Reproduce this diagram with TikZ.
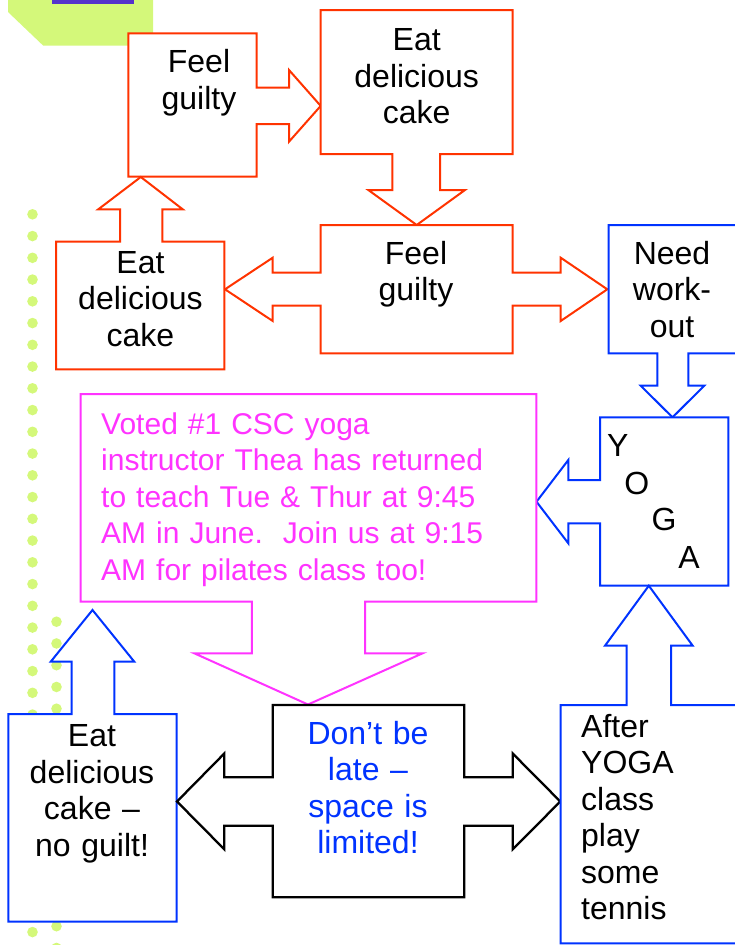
\documentclass[tikz,border=0pt]{standalone}
\usepackage{fontspec}
\setmainfont{Liberation Sans}
\usepackage{xcolor}
\usepackage{tikz}
\usetikzlibrary{positioning}
\definecolor{cakered}  {RGB}{255,51,0}
\definecolor{yogablue} {RGB}{0,51,255}
\definecolor{promopink}{RGB}{255,51,255}
\definecolor{dotlime}  {RGB}{212,248,122}
\definecolor{slidepurp}{RGB}{85,51,204}
\tikzset{
  % Callout outlines
  callout/.style={draw=#1, line width=2pt, fill=white, line join=miter},
  callout/.default=black,
  redcall/.style ={callout=cakered},
  bluecall/.style={callout=yogablue},
  pinkcall/.style={callout=promopink},
  % Texts
  btxt/.style={font=\fontsize{32}{36.5}\selectfont, inner sep=0pt,
               align=center, anchor=base},
  ltxt/.style={btxt, align=left, anchor=base west},
  ptxt/.style={font=\fontsize{30}{36.5}\selectfont, inner sep=0pt,
               align=left, anchor=base west, text=promopink},
}

\begin{document}
\begin{tikzpicture}[x=1pt,y=-1pt]
    \useasboundingbox (0,0) rectangle (735,945);

    %% ── Slide decoration ───────────────────────────────────
    \fill[dotlime] (8,-1) -- (153,-1) -- (153,45.7) -- (43.3,45.7) -- (8,12) -- cycle;
    \fill[slidepurp] (51.7,-1) rectangle (134,4);
    \foreach \k in {0,...,33}
      \fill[dotlime] (32.5,214.3+\k*21.75) circle (5.3);
    \foreach \k in {0,...,15}
      \fill[dotlime] (56.5,621.7+\k*21.75) circle (5.3);

    %% ── Red loop ───────────────────────────────────────────
    % Feel guilty (top)
    \draw[redcall] (128.3,33.3) -- (256.7,33.3) -- (256.7,87.7) -- (289,87.7)
         -- (289,70) -- (320.7,105.9) -- (289,141.7) -- (289,124) -- (256.7,124)
         -- (256.7,176.7) -- (128.3,176.7) -- cycle;
    \node[btxt, text width=128] (fgTop) at (199,72.7) {Feel\\guilty};

    % Eat delicious cake (top)
    \draw[redcall] (320.7,10) -- (512.7,10) -- (512.7,154) -- (440,154)
         -- (440,190) -- (465,190) -- (416.7,225) -- (368.3,190) -- (392.3,190)
         -- (392.3,154) -- (320.7,154) -- cycle;
    \node[btxt, text width=190] (cakeTop) at (416.7,50.7) {Eat\\delicious\\cake};

    % Feel guilty (middle)
    \draw[redcall] (320.7,225) -- (512.7,225) -- (512.7,272.7) -- (560.7,272.7)
         -- (560.7,257.7) -- (607.3,289.3) -- (560.7,321) -- (560.7,305.7)
         -- (512.7,305.7) -- (512.7,353.3) -- (320.7,353.3) -- (320.7,305.7)
         -- (272.7,305.7) -- (272.7,321) -- (225,289.3) -- (272.7,257.7)
         -- (272.7,272.7) -- (320.7,272.7) -- cycle;
    \node[btxt, text width=190] (fgMid) at (416,264) {Feel\\guilty};

    % Eat delicious cake (left)
    \draw[redcall] (56,241.7) -- (120,241.7) -- (120,209.3) -- (98.3,209.3)
         -- (140.8,177) -- (182.7,209.3) -- (162.3,209.3) -- (162.3,241.7)
         -- (224.3,241.7) -- (224.3,369.3) -- (56,369.3) -- cycle;
    \node[btxt, text width=166] (cakeLeft) at (140.5,273.3) {Eat\\delicious\\cake};

    %% ── Blue way out ───────────────────────────────────────
    % Need work-out
    \draw[bluecall] (608.7,225) -- (737,225) -- (737,353.3) -- (688.3,353.3)
         -- (688.3,385.7) -- (704.3,385.7) -- (672.5,417.3) -- (640.7,385.7)
         -- (657.3,385.7) -- (657.3,353.3) -- (608.7,353.3) -- cycle;
    \node[btxt, text width=126] (workout) at (672,264) {Need\\work-\\out};

    % YOGA
    \draw[bluecall] (600,417.3) -- (728.3,417.3) -- (728.3,585.7) -- (600,585.7)
         -- (600,523.3) -- (568.3,523.3) -- (568.3,543.3) -- (536.5,501.7)
         -- (568.3,460) -- (568.3,480) -- (600,480) -- cycle;
    \node[btxt] (yogaY) at (617.7,456.7) {Y};
    \node[btxt] (yogaO) at (636.7,494)   {O};
    \node[btxt] (yogaG) at (664,530.7)   {G};
    \node[btxt] (yogaA) at (689,568.3)   {A};

    %% ── Pink notice ────────────────────────────────────────
    \draw[pinkcall] (80.7,394) -- (536.4,394) -- (536.4,601.5) -- (365.2,601.5)
         -- (365.2,653.3) -- (422.6,653.3) -- (308,704.5) -- (194.3,653.3)
         -- (251.8,653.3) -- (251.8,601.5) -- (80.7,601.5) -- cycle;
    \node[ptxt, text width=430] (promo) at (101,434)
         {Voted \#1 CSC yoga\\instructor Thea has returned\\to teach Tue \& Thur at 9:45\\AM in June.\ \ Join us at 9:15\\AM for pilates class too!};

    %% ── Bottom row ─────────────────────────────────────────
    % Eat delicious cake -- no guilt
    \draw[bluecall] (8.3,714) -- (71.7,714) -- (71.7,661.7) -- (50.7,661.7)
         -- (92.5,610) -- (134.3,661.7) -- (114.3,661.7) -- (114.3,714)
         -- (176.7,714) -- (176.7,921.7) -- (8.3,921.7) -- cycle;
    \node[btxt, text width=166] (guiltfree) at (92,746.7)
         {Eat\\delicious\\cake –\\no guilt!};

    % Don't be late
    \draw[callout, line width=2.3pt] (272.7,705) -- (464.3,705) -- (464.3,777.3)
         -- (512.7,777.3) -- (512.7,753.5) -- (560.3,801.5) -- (512.7,849.3)
         -- (512.7,825.7) -- (464.3,825.7) -- (464.3,897.3) -- (272.7,897.3)
         -- (272.7,825.7) -- (224.3,825.7) -- (224.3,849.3) -- (177,801.5)
         -- (224.3,753.5) -- (224.3,777.3) -- (272.7,777.3) -- cycle;
    \node[btxt, text width=190, text=yogablue] (dontlate) at (368,744)
         {Don’t be\\late –\\space is\\limited!};

    % After YOGA
    \draw[bluecall] (560.7,705) -- (626.7,705) -- (626.7,645.7) -- (605,645.7)
         -- (648.8,585.7) -- (692.7,645.7) -- (671,645.7) -- (671,705)
         -- (737,705) -- (737,943.3) -- (560.7,943.3) -- cycle;
    \node[ltxt, text width=150] (tennis) at (581,737.3)
         {After\\YOGA\\class\\play\\some\\tennis};

\end{tikzpicture}
\end{document}
